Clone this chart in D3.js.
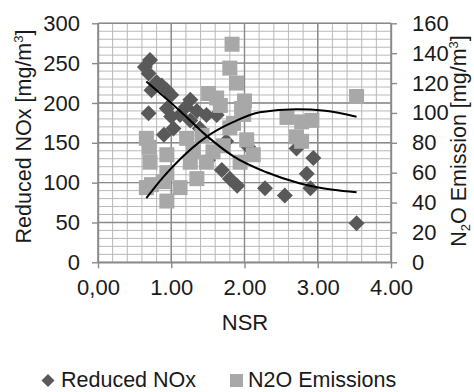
<!DOCTYPE html>
<html>
<head>
<meta charset="utf-8">
<script src="https://cdn.jsdelivr.net/npm/d3@7/dist/d3.min.js"></script>
<style>
  html, body { margin: 0; padding: 0; background: #fff; }
  svg { display: block; font-family: "Liberation Sans", Arial, sans-serif; }
</style>
</head>
<body>
<svg id="chart" width="474" height="392"></svg>
<script>
// ---- Data ----
const noxNSR = [0.71, 0.64, 0.69, 0.80, 0.87, 0.94, 1.00, 0.73, 0.69, 0.94, 1.03, 0.90, 1.00, 1.12, 1.26, 1.26, 1.39, 1.48, 1.62, 1.35, 1.20, 1.50, 1.75, 2.05, 1.69, 1.80, 1.90, 2.28, 2.55, 2.71, 2.94, 2.85, 2.90, 3.53];
const noxValues = [254, 245, 237, 226, 222, 216, 210, 216, 187, 193, 168, 160, 183, 185, 204, 178, 168, 185, 185, 190, 195, 128, 152, 145, 116, 105, 96, 93, 84, 143, 131, 111, 93, 49];

const n2oNSR = [1.83, 1.80, 1.89, 1.51, 1.62, 2.00, 1.96, 3.53, 2.58, 2.92, 2.78, 2.71, 2.78, 0.70, 0.66, 0.71, 0.66, 0.73, 0.94, 0.89, 0.94, 0.94, 1.21, 1.26, 1.35, 1.12, 1.48, 1.30, 1.80, 1.67, 1.99, 2.12, 1.94, 1.57, 1.71, 2.03, 1.85, 1.42];
const n2oValues = [146, 130, 120, 113, 110, 108, 103, 111, 97, 95, 94, 84, 81, 77, 83, 67, 50, 52, 41, 54, 60, 72, 83, 67, 56, 50, 67, 74, 90, 105, 99, 72, 67, 74, 78, 82, 93, 85];

// trend lines (polynomial trendlines as drawn in the reference)
const noxTrendNSR = [0.66, 1.12, 1.48, 1.85, 2.30, 2.76, 3.21, 3.53];
const noxTrendValues = [227, 190, 159, 133, 113, 99, 91, 88];
const n2oTrendNSR = [0.66, 0.89, 1.12, 1.48, 1.85, 2.21, 2.71, 3.10, 3.53];
const n2oTrendValues = [43, 57, 69, 84, 94, 100.5, 102.4, 101.5, 97.5];

const xTicks = [0, 1, 2, 3, 4];
const xTickLabels = ["0,00", "1.00", "2.00", "3.00", "4.00"];
const yLeftTicks = [0, 50, 100, 150, 200, 250, 300];
const yRightTicks = [0, 20, 40, 60, 80, 100, 120, 140, 160];

const seriesNames = ["Reduced NOx", "N2O Emissions"];

// ---- Layout ----
const svg = d3.select("#chart");
const pL = 98, pR = 391, pT = 23.3, pB = 262.3;
const x = d3.scaleLinear().domain([0, 4]).range([pL, pR]);
const yL = d3.scaleLinear().domain([0, 300]).range([pB, pT]);
const yR = d3.scaleLinear().domain([0, 160]).range([pB, pT]);

const textColor = "#1a1a1a";
const fontSize = 22;
const titleSize = 21.5;

// minor gridlines
const g = svg.append("g");
g.selectAll(".vminor").data(d3.range(0, 21).map(i => i * 0.2)).enter().append("line")
  .attr("x1", d => x(d)).attr("x2", d => x(d)).attr("y1", pT).attr("y2", pB)
  .attr("stroke", "#b9b9b9").attr("stroke-width", 1);
g.selectAll(".hminor").data(d3.range(0, 31).map(i => i * 10)).enter().append("line")
  .attr("x1", pL).attr("x2", pR).attr("y1", d => yL(d)).attr("y2", d => yL(d))
  .attr("stroke", "#b9b9b9").attr("stroke-width", 1);
// major gridlines
g.selectAll(".vmajor").data(xTicks).enter().append("line")
  .attr("x1", d => x(d)).attr("x2", d => x(d)).attr("y1", pT).attr("y2", pB)
  .attr("stroke", "#8a8a8a").attr("stroke-width", 1.4);
g.selectAll(".hmajor").data(yLeftTicks).enter().append("line")
  .attr("x1", pL).attr("x2", pR).attr("y1", d => yL(d)).attr("y2", d => yL(d))
  .attr("stroke", "#8a8a8a").attr("stroke-width", 1.4);

// ---- Axes ----
function styleAxis(sel) {
  sel.selectAll("path").attr("stroke", "#8a8a8a").attr("stroke-width", 1.4);
  sel.selectAll("line").attr("stroke", "#8a8a8a").attr("stroke-width", 1.4);
  sel.selectAll("text").attr("fill", textColor).attr("font-size", fontSize)
    .attr("font-family", "Liberation Sans, Arial, sans-serif");
}
const axL = svg.append("g").attr("transform", `translate(${pL},0)`)
  .call(d3.axisLeft(yL).tickValues(yLeftTicks).tickSize(6).tickSizeOuter(0).tickPadding(12).tickFormat(d3.format("d")));
styleAxis(axL);
const axR = svg.append("g").attr("transform", `translate(${pR},0)`)
  .call(d3.axisRight(yR).tickValues(yRightTicks).tickSize(6).tickSizeOuter(0).tickPadding(15).tickFormat(d3.format("d")));
styleAxis(axR);
const axB = svg.append("g").attr("transform", `translate(0,${pB})`)
  .call(d3.axisBottom(x).tickValues(xTicks).tickSize(6).tickSizeOuter(0).tickPadding(11)
    .tickFormat((d, i) => xTickLabels[i]));
styleAxis(axB);

// ---- Points ----
const noxData = noxNSR.map((n, i) => ({ n, v: noxValues[i] }));
const n2oData = n2oNSR.map((n, i) => ({ n, v: n2oValues[i] }));

const diamond = d3.symbol().type(d3.symbolSquare).size(128);
const square = d3.symbol().type(d3.symbolSquare).size(225);

svg.append("g").selectAll("path").data(noxData).enter().append("path")
  .attr("d", diamond)
  .attr("transform", d => `translate(${x(d.n)},${yL(d.v)}) rotate(45)`)
  .attr("fill", "#595959");

svg.append("g").selectAll("path").data(n2oData).enter().append("path")
  .attr("d", square)
  .attr("transform", d => `translate(${x(d.n)},${yR(d.v)})`)
  .attr("fill", "#a8a8a8");

// ---- Trend lines ----
const noxTrend = noxTrendNSR.map((n, i) => [n, noxTrendValues[i]]);
const n2oTrend = n2oTrendNSR.map((n, i) => [n, n2oTrendValues[i]]);
svg.append("path").datum(noxTrend)
  .attr("d", d3.line().x(d => x(d[0])).y(d => yL(d[1])).curve(d3.curveMonotoneX))
  .attr("fill", "none").attr("stroke", "#000").attr("stroke-width", 2);
svg.append("path").datum(n2oTrend)
  .attr("d", d3.line().x(d => x(d[0])).y(d => yR(d[1])).curve(d3.curveMonotoneX))
  .attr("fill", "none").attr("stroke", "#000").attr("stroke-width", 2);

// ---- Axis titles ----
svg.append("text").attr("x", (pL + pR) / 2 + 0.5).attr("y", 330)
  .attr("text-anchor", "middle").attr("font-size", fontSize).attr("fill", textColor)
  .text("NSR");

const lt = svg.append("text")
  .attr("transform", "translate(31,136.5) rotate(-90)")
  .attr("text-anchor", "middle").attr("font-size", titleSize).attr("fill", textColor);
lt.append("tspan").text("Reduced NOx [mg/m");
lt.append("tspan").attr("font-size", 13).attr("dy", -8).text("3");
lt.append("tspan").attr("dy", 8).text("]");

const rt = svg.append("text")
  .attr("transform", "translate(466,141) rotate(-90)")
  .attr("text-anchor", "middle").attr("font-size", titleSize).attr("fill", textColor);
rt.append("tspan").text("N");
rt.append("tspan").attr("font-size", 13).attr("dy", 3.5).text("2");
rt.append("tspan").attr("dy", -3.5).text("O Emission [mg/m");
rt.append("tspan").attr("font-size", 13).attr("dy", -8).text("3");
rt.append("tspan").attr("dy", 8).text("]");

// ---- Legend ----
const legendSize = 21.5;
const lg = svg.append("g");
lg.append("path").attr("d", d3.symbol().type(d3.symbolSquare).size(84))
  .attr("transform", "translate(48,380.5) rotate(45)").attr("fill", "#595959");
lg.append("text").attr("x", 61).attr("y", 386.5).attr("font-size", legendSize).attr("fill", textColor)
  .text(seriesNames[0]);
lg.append("path").attr("d", d3.symbol().type(d3.symbolSquare).size(169))
  .attr("transform", "translate(236.5,380.5)").attr("fill", "#a8a8a8");
lg.append("text").attr("x", 248).attr("y", 386.5).attr("font-size", legendSize).attr("fill", textColor)
  .text(seriesNames[1]);
</script>
</body>
</html>
